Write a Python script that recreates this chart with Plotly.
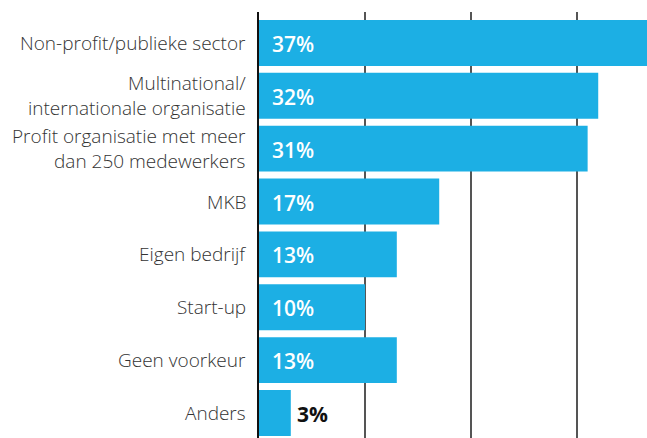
import plotly.graph_objects as go

categories = [
    "Non-profit/publieke sector",
    "Multinational/<br>internationale organisatie",
    "Profit organisatie met meer<br>dan 250 medewerkers",
    "MKB",
    "Eigen bedrijf",
    "Start-up",
    "Geen voorkeur",
    "Anders",
]
values = [37, 32, 31, 17, 13, 10, 13, 3]
grid_ticks = [0, 10, 20, 30]

BAR = "#1cafe4"

fig = go.Figure(
    go.Bar(
        x=values,
        y=categories,
        orientation="h",
        marker=dict(color=BAR, line=dict(width=0)),
        hoverinfo="skip",
    )
)

annotations = []
for c, v in zip(categories, values):
    annotations.append(dict(
        x=0, y=c, xref="paper", yref="y", text=c, showarrow=False,
        xanchor="right", align="right", xshift=-11,
        font=dict(family="Open Sans", size=19, color="#333333", weight=300),
    ))
    if v > 5:
        annotations.append(dict(
            x=0, y=c, xref="x", yref="y", text=f"{v}%", showarrow=False,
            xanchor="left", xshift=11, yshift=-1,
            font=dict(family="Open Sans", size=21, color="white", weight=600),
        ))
    else:
        annotations.append(dict(
            x=v, y=c, xref="x", yref="y", text=f"<b>{v}%</b>", showarrow=False,
            xanchor="left", xshift=4, yshift=-1,
            font=dict(family="Open Sans", size=21, color="#111111", weight=700),
        ))

fig.update_layout(
    width=647, height=438,
    margin=dict(l=259, r=0, t=12, b=0, pad=0),
    paper_bgcolor="white", plot_bgcolor="white",
    bargap=0.132,
    showlegend=False,
    annotations=annotations,
    xaxis=dict(
        range=[0, 36.6], tickvals=grid_ticks, showticklabels=False,
        showgrid=True, gridcolor="#555555", gridwidth=2,
        zeroline=False, showline=False, ticks="", fixedrange=True,
    ),
    yaxis=dict(
        categoryorder="array", categoryarray=categories,
        range=[7.472, -0.585],
        showline=True, linecolor="#111111", linewidth=2,
        showgrid=False, zeroline=False, ticks="",
        showticklabels=False, fixedrange=True,
    ),
)

fig.write_html(
    "out.html",
    config={"displayModeBar": False, "staticPlot": True},
    post_script="document.body.style.margin='0';document.body.style.overflow='hidden';",
)
